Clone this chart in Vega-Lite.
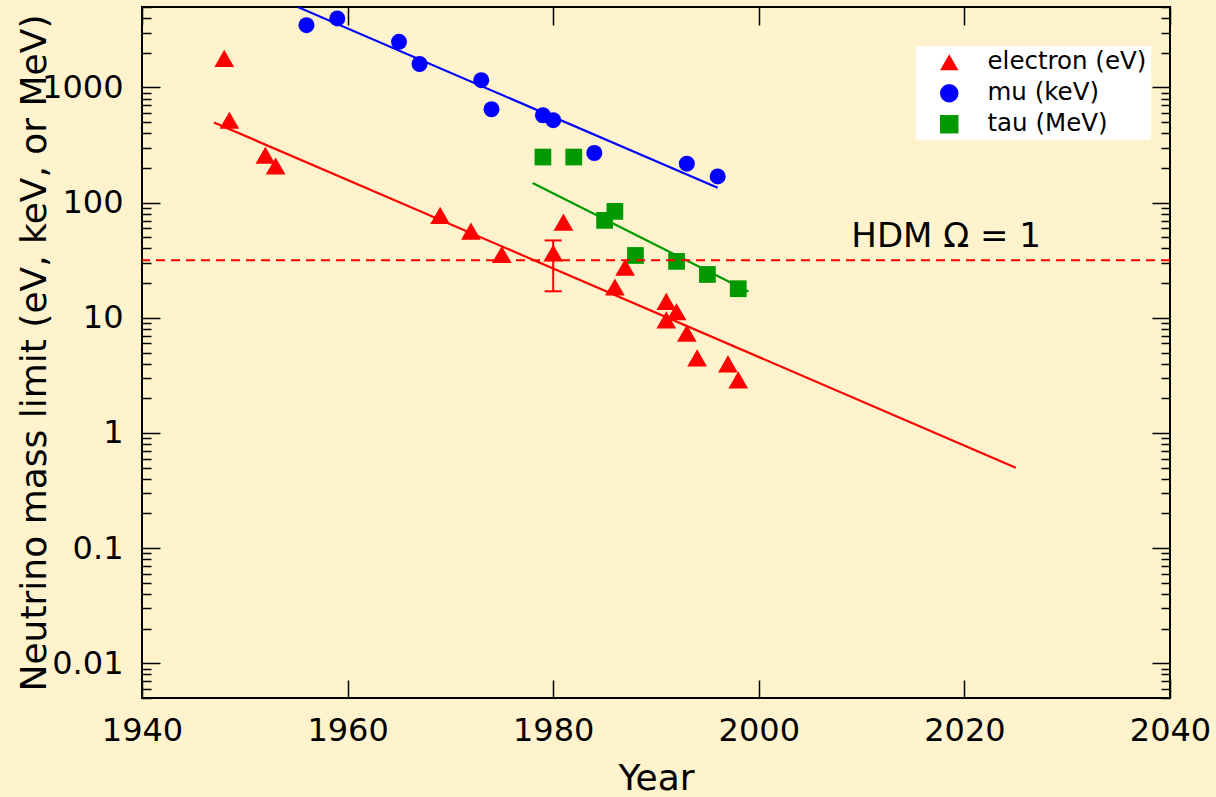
{
  "$schema": "https://vega.github.io/schema/vega-lite/v6.json",
  "width": 1028,
  "height": 691,
  "autosize": {"type": "none"},
  "padding": {"left": 142, "top": 7, "right": 46, "bottom": 99},
  "background": "#FEF3CD",
  "datasets": {
    "points": [
      {"series": "electron (eV)", "year": 1948, "value": 1790},
      {"series": "electron (eV)", "year": 1948.5, "value": 520},
      {"series": "electron (eV)", "year": 1952, "value": 258},
      {"series": "electron (eV)", "year": 1953, "value": 208},
      {"series": "electron (eV)", "year": 1969, "value": 77.6},
      {"series": "electron (eV)", "year": 1972, "value": 56.6},
      {"series": "electron (eV)", "year": 1975, "value": 35.5},
      {"series": "electron (eV)", "year": 1980, "value": 36.5},
      {"series": "electron (eV)", "year": 1981, "value": 67.8},
      {"series": "electron (eV)", "year": 1986, "value": 18.5},
      {"series": "electron (eV)", "year": 1987, "value": 27.5},
      {"series": "electron (eV)", "year": 1991, "value": 13.9},
      {"series": "electron (eV)", "year": 1991, "value": 9.6},
      {"series": "electron (eV)", "year": 1992, "value": 11.3},
      {"series": "electron (eV)", "year": 1993, "value": 7.35},
      {"series": "electron (eV)", "year": 1994, "value": 4.49},
      {"series": "electron (eV)", "year": 1997, "value": 3.98},
      {"series": "electron (eV)", "year": 1998, "value": 2.89},
      {"series": "mu (keV)", "year": 1956, "value": 3480},
      {"series": "mu (keV)", "year": 1959, "value": 3980},
      {"series": "mu (keV)", "year": 1965, "value": 2490},
      {"series": "mu (keV)", "year": 1967, "value": 1600},
      {"series": "mu (keV)", "year": 1973, "value": 1157},
      {"series": "mu (keV)", "year": 1974, "value": 647},
      {"series": "mu (keV)", "year": 1979, "value": 574},
      {"series": "mu (keV)", "year": 1980, "value": 520},
      {"series": "mu (keV)", "year": 1984, "value": 270},
      {"series": "mu (keV)", "year": 1993, "value": 218},
      {"series": "mu (keV)", "year": 1996, "value": 169},
      {"series": "tau (MeV)", "year": 1979, "value": 249},
      {"series": "tau (MeV)", "year": 1982, "value": 249},
      {"series": "tau (MeV)", "year": 1985, "value": 70.2},
      {"series": "tau (MeV)", "year": 1986, "value": 84},
      {"series": "tau (MeV)", "year": 1988, "value": 34.8},
      {"series": "tau (MeV)", "year": 1992, "value": 30.9},
      {"series": "tau (MeV)", "year": 1995, "value": 23.8},
      {"series": "tau (MeV)", "year": 1998, "value": 17.9}
    ],
    "fits": [
      {"series": "electron (eV)", "year": 1947, "value": 497},
      {"series": "electron (eV)", "year": 2025, "value": 0.5},
      {"series": "mu (keV)", "year": 1955.1, "value": 5020},
      {"series": "mu (keV)", "year": 1996, "value": 135},
      {"series": "tau (MeV)", "year": 1978, "value": 148},
      {"series": "tau (MeV)", "year": 1999, "value": 16.9}
    ],
    "errs": [
      {"year": 1980, "lo": 17, "hi": 47}
    ]
  },
  "layer": [
    {
      "data": {"name": "fits"},
      "mark": {"type": "line", "strokeWidth": 2.2, "clip": true},
      "encoding": {
        "x": {
          "field": "year", "type": "quantitative",
          "scale": {"domain": [1940, 2040], "nice": false, "zero": false},
          "axis": {
            "orient": "bottom", "values": [1940, 1960, 1980, 2000, 2020, 2040], "format": "d",
            "tickSize": -18, "labelFontSize": 32, "labelPadding": 35, "labelFlush": false,
            "labelOverlap": false, "labelBound": false,
            "title": "Year", "titleFontSize": 36, "titleFontWeight": "normal",
            "titleBaseline": "alphabetic", "titleY": 91
          }
        },
        "y": {
          "field": "value", "type": "quantitative",
          "scale": {"type": "log", "domain": [0.005, 5000], "nice": false},
          "axis": {
            "orient": "left", "tickCount": 200,
            "values": [0.005, 0.006, 0.007, 0.008, 0.009, 0.01, 0.02, 0.03, 0.04, 0.05, 0.06, 0.07, 0.08, 0.09, 0.1, 0.2, 0.3, 0.4, 0.5, 0.6, 0.7, 0.8, 0.9, 1, 2, 3, 4, 5, 6, 7, 8, 9, 10, 20, 30, 40, 50, 60, 70, 80, 90, 100, 200, 300, 400, 500, 600, 700, 800, 900, 1000, 2000, 3000, 4000, 5000],
            "labelExpr": "abs(log(datum.value)/LN10 - round(log(datum.value)/LN10)) < 0.000001 ? format(datum.value, '~g') : ''",
            "tickSize": {"condition": {"test": "abs(log(datum.value)/LN10 - round(log(datum.value)/LN10)) < 0.000001", "value": -18}, "value": -9},
            "labelFontSize": 32, "labelPadding": 37,
            "labelOverlap": false, "labelBound": false,
            "title": "Neutrino mass limit (eV, keV, or MeV)", "titleFontSize": 36,
            "titleFontWeight": "normal", "titleAngle": -90, "titleBaseline": "alphabetic",
            "titleAlign": "center", "titleX": -97, "titleY": 345.5
          }
        },
        "stroke": {
          "field": "series", "type": "nominal",
          "scale": {"domain": ["tau (MeV)", "mu (keV)", "electron (eV)"], "range": ["#009900", "#0000FF", "#FF0000"]},
          "legend": null
        }
      }
    },
    {
      "data": {"name": "points"},
      "mark": {"type": "point", "filled": true, "opacity": 1},
      "encoding": {
        "x": {
          "field": "year", "type": "quantitative",
          "scale": {"domain": [1940, 2040], "nice": false, "zero": false},
          "axis": {"orient": "top", "values": [1940, 1960, 1980, 2000, 2020, 2040], "labels": false, "tickSize": -18, "title": null}
        },
        "y": {
          "field": "value", "type": "quantitative",
          "scale": {"type": "log", "domain": [0.005, 5000], "nice": false},
          "axis": {
            "orient": "right", "labels": false, "title": null, "tickCount": 200,
            "values": [0.005, 0.006, 0.007, 0.008, 0.009, 0.01, 0.02, 0.03, 0.04, 0.05, 0.06, 0.07, 0.08, 0.09, 0.1, 0.2, 0.3, 0.4, 0.5, 0.6, 0.7, 0.8, 0.9, 1, 2, 3, 4, 5, 6, 7, 8, 9, 10, 20, 30, 40, 50, 60, 70, 80, 90, 100, 200, 300, 400, 500, 600, 700, 800, 900, 1000, 2000, 3000, 4000, 5000],
            "tickSize": {"condition": {"test": "abs(log(datum.value)/LN10 - round(log(datum.value)/LN10)) < 0.000001", "value": -18}, "value": -9}
          }
        },
        "color": {
          "field": "series", "type": "nominal",
          "scale": {"domain": ["electron (eV)", "mu (keV)", "tau (MeV)"], "range": ["#FF0000", "#0000FF", "#009900"]},
          "legend": {
            "title": null, "orient": "none", "legendX": 774, "legendY": 39,
            "fillColor": "white", "padding": 4, "symbolOffset": 17, "labelOffset": 26,
            "labelFontSize": 24.5, "labelFont": "DejaVu Sans", "labelColor": "black",
            "symbolSize": 340, "symbolStrokeWidth": 0, "rowPadding": 6
          }
        },
        "shape": {
          "field": "series", "type": "nominal",
          "scale": {"domain": ["electron (eV)", "mu (keV)", "tau (MeV)"], "range": ["triangle-up", "circle", "square"]},
          "legend": {
            "title": null, "orient": "none", "legendX": 774, "legendY": 39,
            "fillColor": "white", "padding": 4, "symbolOffset": 17, "labelOffset": 26,
            "labelFontSize": 24.5, "labelFont": "DejaVu Sans", "labelColor": "black",
            "symbolSize": 340, "symbolStrokeWidth": 0, "rowPadding": 6
          }
        },
        "size": {
          "field": "series", "type": "nominal",
          "scale": {"type": "ordinal", "domain": ["mu (keV)", "tau (MeV)", "electron (eV)"], "range": [256, 280, 390]},
          "legend": null
        }
      }
    },
    {
      "data": {"name": "errs"},
      "mark": {"type": "rule", "color": "#FF0000", "strokeWidth": 2},
      "encoding": {
        "x": {"field": "year", "type": "quantitative", "scale": {"domain": [1940, 2040], "nice": false, "zero": false}, "axis": null},
        "y": {"field": "lo", "type": "quantitative", "scale": {"type": "log", "domain": [0.005, 5000], "nice": false}, "axis": null},
        "y2": {"field": "hi"}
      }
    },
    {
      "data": {"name": "errs"},
      "mark": {"type": "tick", "orient": "horizontal", "color": "#FF0000", "size": 17, "thickness": 2, "opacity": 1},
      "encoding": {
        "x": {"field": "year", "type": "quantitative", "scale": {"domain": [1940, 2040], "nice": false, "zero": false}, "axis": null},
        "y": {"field": "hi", "type": "quantitative", "scale": {"type": "log", "domain": [0.005, 5000], "nice": false}, "axis": null}
      }
    },
    {
      "data": {"name": "errs"},
      "mark": {"type": "tick", "orient": "horizontal", "color": "#FF0000", "size": 17, "thickness": 2, "opacity": 1},
      "encoding": {
        "x": {"field": "year", "type": "quantitative", "scale": {"domain": [1940, 2040], "nice": false, "zero": false}, "axis": null},
        "y": {"field": "lo", "type": "quantitative", "scale": {"type": "log", "domain": [0.005, 5000], "nice": false}, "axis": null}
      }
    },
    {
      "data": {"values": [{"limit": 31.6}]},
      "mark": {"type": "rule", "color": "#FF0000", "strokeWidth": 2, "strokeDash": [9, 6]},
      "encoding": {
        "y": {"field": "limit", "type": "quantitative", "scale": {"type": "log", "domain": [0.005, 5000], "nice": false}, "axis": null}
      }
    },
    {
      "data": {"values": [{"label": "HDM Ω = 1", "year": 2009, "value": 41}]},
      "mark": {"type": "text", "align": "left", "baseline": "alphabetic", "fontSize": 34, "font": "DejaVu Sans", "color": "black"},
      "encoding": {
        "x": {"field": "year", "type": "quantitative", "scale": {"domain": [1940, 2040], "nice": false, "zero": false}, "axis": null},
        "y": {"field": "value", "type": "quantitative", "scale": {"type": "log", "domain": [0.005, 5000], "nice": false}, "axis": null},
        "text": {"field": "label"}
      }
    }
  ],
  "resolve": {"axis": {"x": "independent", "y": "independent"}},
  "config": {
    "font": "DejaVu Sans",
    "view": {"stroke": "black", "strokeWidth": 2},
    "axis": {
      "grid": false, "domain": false, "tickColor": "black", "tickWidth": 1.5,
      "labelFont": "DejaVu Sans", "titleFont": "DejaVu Sans", "labelColor": "black", "titleColor": "black"
    }
  }
}
